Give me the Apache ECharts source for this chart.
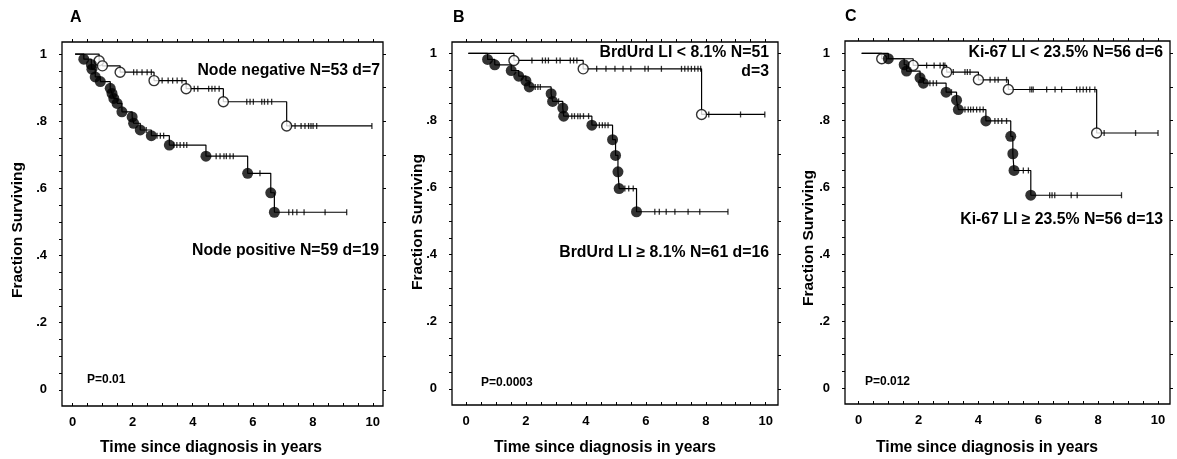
<!DOCTYPE html>
<html>
<head>
<meta charset="utf-8">
<script src="https://cdn.jsdelivr.net/npm/echarts@6/dist/echarts.min.js"></script>
<style>
html,body{margin:0;padding:0;background:#fff;}
#chart{width:1177px;height:459px;}
</style>
</head>
<body>
<div id="chart"></div>
<script>
// ---------- tick labels ----------
const xTickLabels = [0, 2, 4, 6, 8, 10];
const xMinorTicks = [0,0.5,1,1.5,2,2.5,3,3.5,4,4.5,5,5.5,6,6.5,7,7.5,8,8.5,9,9.5,10];
const yTickLabels = [0, 0.2, 0.4, 0.6, 0.8, 1];
const yLeftTicks = [0,0.05,0.1,0.15,0.2,0.25,0.3,0.35,0.4,0.45,0.5,0.55,0.6,0.65,0.7,0.75,0.8,0.85,0.9,0.95,1];
const yRightTicks = [0,0.1,0.2,0.3,0.4,0.5,0.6,0.7,0.8,0.9,1];

// ---------- Panel A: node status ----------
const aNegStart = 0.08;
const aNegEventTimes = [0.88, 0.99, 1.58, 2.71, 3.78, 5.02, 7.13];
const aNegSurvival   = [0.980, 0.965, 0.946, 0.921, 0.897, 0.858, 0.786];
const aNegCensorTimes = [2.03, 2.14, 2.31, 2.48, 2.62, 2.98, 3.18, 3.33, 3.48, 3.64,
  4.05, 4.17, 4.53, 4.64, 4.74, 4.88, 5.8, 5.91, 6.02, 6.3, 6.39, 6.5, 6.63,
  7.24, 7.41, 7.61, 7.74, 7.86, 7.94, 8.01, 8.13, 9.97];

const aPosStart = 0.08;
const aPosEventTimes = [0.37, 0.62, 0.64, 0.75, 0.92, 1.25, 1.31, 1.37, 1.48, 1.64,
  1.98, 2.03, 2.25, 2.62, 3.22, 4.44, 5.83, 6.6, 6.72];
const aPosSurvival   = [0.985, 0.969, 0.955, 0.932, 0.918, 0.898, 0.883, 0.868, 0.853, 0.828,
  0.813, 0.794, 0.774, 0.757, 0.729, 0.696, 0.645, 0.587, 0.529];
const aPosCensorTimes = [2.45, 2.81, 2.92, 3.03, 3.37, 3.47, 3.58, 3.7, 3.8,
  4.78, 4.91, 5.04, 5.12, 5.24, 5.35, 6.24, 7.2, 7.33, 7.47, 7.71, 8.41, 9.13];

// ---------- Panel B: BrdUrd LI ----------
const bLowStart = 0.08;
const bLowEventTimes = [1.6, 3.91, 7.86];
const bLowSurvival   = [0.979, 0.954, 0.818];
const bLowCensorTimes = [2.2, 2.55, 2.65, 2.75, 3.02, 3.14, 3.48, 3.59, 3.7,
  4.36, 4.67, 4.97, 5.24, 5.5, 5.97, 6.08, 6.52, 7.19, 7.3, 7.41, 7.52, 7.63, 7.74, 7.83,
  8.1, 9.16, 9.97];

const bHighStart = 0.08;
const bHighEventTimes = [0.72, 0.96, 1.51, 1.76, 2.0, 2.11, 2.84, 2.89, 3.23, 3.26,
  4.2, 4.89, 4.99, 5.07, 5.11, 5.69];
const bHighSurvival   = [0.982, 0.966, 0.949, 0.932, 0.918, 0.900, 0.880, 0.857, 0.837, 0.813,
  0.786, 0.743, 0.696, 0.647, 0.597, 0.528];
const bHighCensorTimes = [2.31, 2.4, 2.48, 3.09, 3.53, 3.62, 3.73, 3.81, 3.92, 4.09,
  4.45, 4.55, 4.64, 4.74, 5.3, 5.43, 5.58, 6.3, 6.45, 6.68, 6.97, 7.41, 7.8, 8.74];

// ---------- Panel C: Ki-67 LI ----------
const cLowStart = 0.1;
const cLowEventTimes = [0.77, 1.82, 2.94, 4.0, 5.0, 7.95];
const cLowSurvival   = [0.984, 0.964, 0.944, 0.921, 0.892, 0.762];
const cLowCensorTimes = [2.27, 2.52, 2.72, 2.83, 2.88, 3.16, 3.55, 3.63, 3.72,
  4.39, 4.55, 4.66, 4.94, 5.72, 5.78, 5.83, 6.28, 6.56, 6.78, 7.28, 7.39, 7.5, 7.61, 7.72, 7.89,
  8.2, 9.25, 10.0];

const cHighStart = 0.1;
const cHighEventTimes = [0.99, 1.52, 1.6, 2.05, 2.16, 2.92, 3.27, 3.33, 4.25, 5.08, 5.15, 5.19, 5.75];
const cHighSurvival   = [0.984, 0.966, 0.947, 0.927, 0.911, 0.884, 0.860, 0.832, 0.798, 0.752, 0.700, 0.650, 0.576];
const cHighCensorTimes = [2.38, 2.49, 2.6, 3.1, 3.55, 3.66, 3.74, 3.83, 3.94, 4.05, 4.16,
  4.55, 4.66, 4.78, 4.94, 5.5, 5.67, 6.38, 6.46, 6.55, 7.1, 7.3, 8.78];

// ---------- helpers ----------
function levelAt(times, surv, t) {
  let s = 1;
  for (let i = 0; i < times.length; i++) { if (times[i] <= t) s = surv[i]; }
  return s;
}
function stepData(start, times, surv, censors) {
  const d = [[start, 1]];
  for (let i = 0; i < times.length; i++) d.push([times[i], surv[i]]);
  const end = Math.max(censors[censors.length - 1], times[times.length - 1]);
  d.push([end, levelAt(times, surv, end)]);
  return d;
}
function curveSeries(gi, start, times, surv, censors, openCircle) {
  return [
    { type: 'line', xAxisIndex: gi * 2, yAxisIndex: gi * 2, step: 'end', showSymbol: false,
      symbol: 'none', data: stepData(start, times, surv, censors),
      lineStyle: { color: '#000', width: 1.2 }, z: 2, silent: true, animation: false },
    { type: 'scatter', xAxisIndex: gi * 2, yAxisIndex: gi * 2, symbol: 'rect', symbolSize: [1.3, 6],
      data: censors.map(t => [t, levelAt(times, surv, t)]),
      itemStyle: { color: '#000' }, z: 3, silent: true, animation: false },
    { type: 'scatter', xAxisIndex: gi * 2, yAxisIndex: gi * 2, symbol: 'circle',
      symbolSize: openCircle ? 10 : 11,
      data: times.map((t, i) => [t, surv[i]]),
      itemStyle: openCircle ? { color: '#fff', borderColor: '#000', borderWidth: 1.4 } : { color: '#000' },
      z: 4, silent: true, animation: false }
  ];
}

const FONT = '"Liberation Sans", Arial, sans-serif';
const grids = [
  { left: 62, top: 42, width: 321, height: 364, xmin: -0.357, xmax: 10.34, ymin: -0.048, ymax: 1.036 },
  { left: 452, top: 42, width: 326, height: 363, xmin: -0.467, xmax: 10.41, ymin: -0.048, ymax: 1.034 },
  { left: 845, top: 41, width: 325, height: 363, xmin: -0.457, xmax: 10.4, ymin: -0.048, ymax: 1.037 }
];

const gridOpts = [], xAxes = [], yAxes = [];
grids.forEach((g, i) => {
  gridOpts.push({ left: g.left, top: g.top, width: g.width, height: g.height, show: true,
    borderColor: '#000', borderWidth: 1.3, backgroundColor: 'transparent', containLabel: false });
  xAxes.push({ type: 'value', gridIndex: i, position: 'bottom', min: g.xmin, max: g.xmax,
    axisLine: { show: false, onZero: false }, splitLine: { show: false },
    axisTick: { show: true, inside: true, length: 3, customValues: xMinorTicks, lineStyle: { color: '#000', width: 1 } },
    axisLabel: { show: true, customValues: xTickLabels, margin: 10, color: '#000',
      fontFamily: FONT, fontWeight: 'bold', fontSize: 13 } });
  xAxes.push({ type: 'value', gridIndex: i, position: 'top', min: g.xmin, max: g.xmax,
    axisLine: { show: false, onZero: false }, splitLine: { show: false },
    axisTick: { show: true, inside: false, length: 3, customValues: xMinorTicks, lineStyle: { color: '#000', width: 1 } },
    axisLabel: { show: false } });
  yAxes.push({ type: 'value', gridIndex: i, position: 'left', min: g.ymin, max: g.ymax,
    axisLine: { show: false, onZero: false }, splitLine: { show: false },
    axisTick: { show: true, inside: false, length: 3, customValues: yLeftTicks, lineStyle: { color: '#000', width: 1 } },
    axisLabel: { show: true, customValues: yTickLabels, margin: 15, color: '#000',
      fontFamily: FONT, fontWeight: 'bold', fontSize: 13,
      formatter: v => v === 0 ? '0' : (v === 1 ? '1' : '.' + Math.round(v * 10)) } });
  yAxes.push({ type: 'value', gridIndex: i, position: 'right', min: g.ymin, max: g.ymax,
    axisLine: { show: false, onZero: false }, splitLine: { show: false },
    axisTick: { show: true, inside: false, length: 3, customValues: yRightTicks, lineStyle: { color: '#000', width: 1 } },
    axisLabel: { show: false } });
});

let series = [];
series = series.concat(curveSeries(0, aNegStart, aNegEventTimes, aNegSurvival, aNegCensorTimes, true));
series = series.concat(curveSeries(0, aPosStart, aPosEventTimes, aPosSurvival, aPosCensorTimes, false));
series = series.concat(curveSeries(1, bLowStart, bLowEventTimes, bLowSurvival, bLowCensorTimes, true));
series = series.concat(curveSeries(1, bHighStart, bHighEventTimes, bHighSurvival, bHighCensorTimes, false));
series = series.concat(curveSeries(2, cLowStart, cLowEventTimes, cLowSurvival, cLowCensorTimes, true));
series = series.concat(curveSeries(2, cHighStart, cHighEventTimes, cHighSurvival, cHighCensorTimes, false));

function txt(text, x, y, size, align, opts) {
  return Object.assign({ type: 'text', x: x, y: y, silent: true,
    style: { text: text, fill: '#000', font: 'bold ' + size + 'px ' + FONT,
      textAlign: align, textVerticalAlign: 'middle', align: align, verticalAlign: 'middle' } }, opts || {});
}

const graphics = [
  txt('A', 70, 18, 16, 'left'),
  txt('B', 453, 18, 16, 'left'),
  txt('C', 845, 17, 16, 'left'),
  txt('Node negative N=53 d=7', 380, 71, 15.8, 'right'),
  txt('Node positive N=59 d=19', 379, 251, 15.8, 'right'),
  txt('P=0.01', 87, 380, 12, 'left'),
  txt('BrdUrd LI < 8.1% N=51', 769, 53, 15.8, 'right'),
  txt('d=3', 769, 72, 15.8, 'right'),
  txt('BrdUrd LI \u2265 8.1% N=61 d=16', 769, 253, 15.8, 'right'),
  txt('P=0.0003', 481, 383, 12, 'left'),
  txt('Ki-67 LI < 23.5% N=56 d=6', 1163, 53, 15.8, 'right'),
  txt('Ki-67 LI \u2265 23.5% N=56 d=13', 1163, 220, 15.8, 'right'),
  txt('P=0.012', 865, 382, 12, 'left'),
  txt('Fraction Surviving', 18, 230, 15.5, 'center', { rotation: Math.PI / 2 }),
  txt('Fraction Surviving', 418, 222, 15.5, 'center', { rotation: Math.PI / 2 }),
  txt('Fraction Surviving', 809, 238, 15.5, 'center', { rotation: Math.PI / 2 }),
  txt('Time since diagnosis in years', 211, 448, 15.7, 'center'),
  txt('Time since diagnosis in years', 605, 448, 15.7, 'center'),
  txt('Time since diagnosis in years', 987, 448, 15.7, 'center')
];

const chart = echarts.init(document.getElementById('chart'), null, { renderer: 'canvas' });
chart.setOption({
  backgroundColor: '#fff',
  animation: false,
  grid: gridOpts,
  xAxis: xAxes,
  yAxis: yAxes,
  series: series,
  graphic: graphics
});
</script>
</body>
</html>
